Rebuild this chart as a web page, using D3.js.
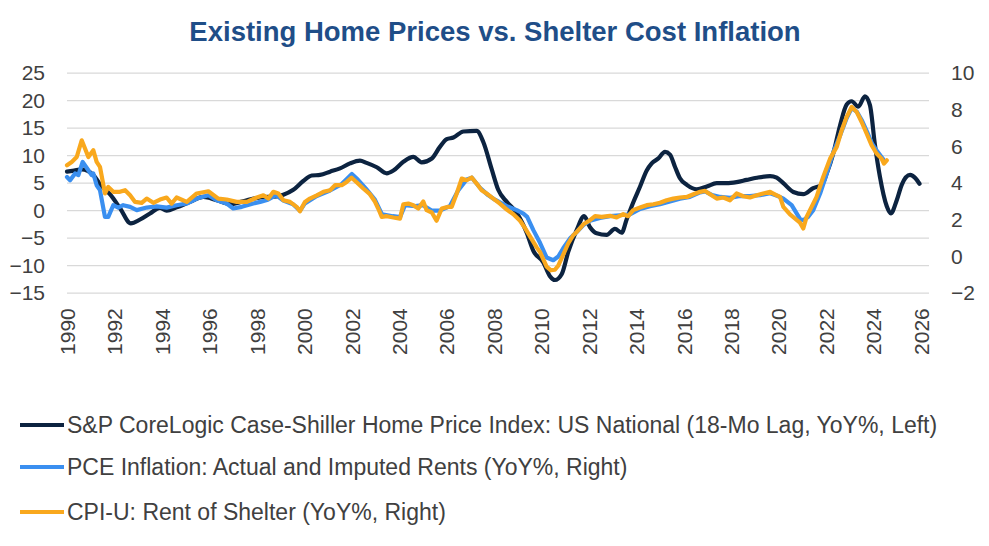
<!DOCTYPE html>
<html><head><meta charset="utf-8">
<script src="https://cdn.jsdelivr.net/npm/d3@7"></script>
<style>body{margin:0;background:#fff;font-family:Arial,"Liberation Sans",sans-serif;}</style>
</head><body><svg id="c" width="989" height="546"></svg>
<script>
const title = "Existing Home Prices vs. Shelter Cost Inflation";
const xTicks = d3.range(1990, 2027, 2);
const leftTicks = [-15,-10,-5,0,5,10,15,20,25];
const rightTicks = [-2,0,2,4,6,8,10];
const seriesNames = [
  "S&P CoreLogic Case-Shiller Home Price Index: US National (18-Mo Lag, YoY%, Left)",
  "PCE Inflation: Actual and Imputed Rents (YoY%, Right)",
  "CPI-U: Rent of Shelter (YoY%, Right)"
];
const hpiDates = [1990.0,1990.3,1990.62,1991.11,1991.39,1991.81,1992.23,1992.69,1993.08,1993.5,1993.92,1994.2,1994.62,1995.19,1995.75,1996.31,1996.87,1997.58,1998.14,1998.84,1999.12,1999.54,1999.96,2000.32,2000.67,2001.09,2001.51,2001.93,2002.35,2002.63,2003.06,2003.48,2003.76,2004.18,2004.6,2004.95,2005.38,2005.72,2006.01,2006.29,2006.71,2007.27,2007.55,2007.9,2008.18,2008.54,2008.96,2009.38,2009.66,2010.08,2010.36,2010.57,2010.86,2011.13,2011.49,2011.8,2012.05,2012.33,2012.75,2013.1,2013.38,2013.6,2013.87,2014.16,2014.44,2014.65,2014.93,2015.21,2015.42,2015.63,2015.84,2016.13,2016.55,2016.97,2017.39,2017.81,2018.23,2018.65,2019.08,2019.64,2019.92,2020.2,2020.62,2021.04,2021.46,2021.82,2022.03,2022.31,2022.59,2022.87,2023.08,2023.36,2023.64,2023.85,2024.06,2024.27,2024.56,2024.73,2024.98,2025.19,2025.54,2025.77,2025.94];
const hpiValues = [7.1,7.3,7.5,6.5,4.8,3.0,0.5,-2.3,-1.6,-0.5,0.5,0.0,0.6,1.6,2.5,1.9,1.2,1.9,2.4,2.6,2.9,3.8,5.4,6.4,6.5,7.1,7.7,8.6,9.1,8.7,7.9,6.8,7.3,8.9,9.8,8.8,9.5,11.6,13.0,13.3,14.4,14.5,12.5,7.6,3.8,1.6,-0.4,-4.0,-7.3,-9.4,-11.9,-12.6,-11.5,-7.5,-3.5,-1.0,-3.0,-4.1,-4.4,-3.3,-4.0,-1.5,1.5,4.4,7.3,8.6,9.5,10.7,10.2,8.0,5.9,4.7,3.9,4.4,5.0,5.0,5.2,5.6,6.0,6.3,6.0,5.0,3.4,3.0,4.1,4.7,6.8,10.5,15.5,19.3,19.9,18.9,20.8,19.2,12.0,6.2,0.8,-0.5,1.9,4.7,6.5,5.9,4.9];
const pceDates = [1990.0,1990.13,1990.34,1990.48,1990.66,1990.9,1991.04,1991.11,1991.25,1991.39,1991.6,1991.74,1991.95,1992.16,1992.37,1992.66,1992.94,1993.36,1993.78,1994.2,1994.62,1995.05,1995.47,1995.96,1996.31,1996.73,1997.01,1997.37,1997.85,1998.14,1998.47,1998.81,1999.12,1999.53,1999.82,2000.03,2000.53,2001.09,2001.58,2002.01,2002.26,2002.6,2002.98,2003.28,2003.74,2004.04,2004.25,2004.68,2005.01,2005.39,2005.72,2006.14,2006.49,2006.85,2007.07,2007.41,2007.75,2008.04,2008.54,2008.96,2009.24,2009.4,2009.66,2009.94,2010.22,2010.5,2010.71,2010.92,2011.2,2011.49,2011.77,2012.05,2012.47,2012.89,2013.31,2013.73,2014.16,2014.58,2015.0,2015.42,2015.84,2016.26,2016.69,2016.9,2017.2,2017.54,2017.95,2018.37,2018.79,2019.22,2019.64,2019.97,2020.2,2020.55,2020.9,2021.04,2021.24,2021.46,2021.75,2022.03,2022.31,2022.59,2022.87,2023.08,2023.3,2023.52,2023.73,2023.94,2024.15,2024.41];
const pceValues = [4.34,4.16,4.53,4.44,5.16,4.71,4.44,4.53,3.89,3.62,2.16,2.16,2.8,2.67,2.8,2.71,2.53,2.67,2.74,2.67,2.8,2.89,3.16,3.34,3.07,2.89,2.62,2.71,2.89,2.98,3.1,3.35,3.05,2.85,2.5,2.9,3.3,3.6,3.95,4.5,4.2,3.7,3.1,2.3,2.2,2.15,2.8,2.75,2.8,2.5,2.5,2.75,3.6,4.2,4.3,3.75,3.35,3.1,2.75,2.53,2.34,2.16,1.44,0.75,-0.05,-0.2,0.0,0.45,0.98,1.34,1.72,1.95,2.1,2.2,2.25,2.3,2.6,2.75,2.85,3.0,3.15,3.25,3.5,3.55,3.35,3.25,3.2,3.3,3.3,3.35,3.45,3.3,3.16,2.8,2.05,1.98,2.16,2.53,3.44,4.53,5.71,6.6,7.55,8.1,7.9,7.4,6.8,6.15,5.75,5.3];
const cpiDates = [1990.0,1990.2,1990.41,1990.62,1990.76,1990.9,1991.11,1991.25,1991.39,1991.6,1991.74,1991.95,1992.23,1992.45,1992.66,1992.87,1993.15,1993.36,1993.64,1993.92,1994.2,1994.41,1994.62,1995.05,1995.47,1995.96,1996.38,1996.73,1997.15,1997.58,1998.0,1998.28,1998.49,1998.7,1998.91,1999.12,1999.4,1999.68,1999.82,2000.03,2000.24,2000.53,2000.81,2001.09,2001.3,2001.58,2001.79,2002.0,2002.21,2002.49,2002.77,2002.98,2003.12,2003.27,2003.48,2003.76,2004.04,2004.18,2004.39,2004.6,2004.81,2005.02,2005.16,2005.38,2005.58,2005.8,2006.07,2006.22,2006.43,2006.64,2006.85,2007.06,2007.27,2007.48,2007.69,2007.97,2008.25,2008.54,2008.82,2009.1,2009.31,2009.52,2009.8,2009.94,2010.22,2010.4,2010.57,2010.71,2010.92,2011.13,2011.34,2011.49,2011.77,2012.05,2012.26,2012.54,2012.89,2013.17,2013.45,2013.66,2013.87,2014.16,2014.44,2014.72,2015.0,2015.28,2015.56,2015.84,2016.13,2016.41,2016.69,2016.9,2017.11,2017.39,2017.67,2017.95,2018.23,2018.51,2018.79,2019.08,2019.35,2019.64,2019.92,2020.06,2020.2,2020.48,2020.76,2020.9,2021.04,2021.18,2021.39,2021.6,2021.88,2022.17,2022.45,2022.66,2022.87,2023.08,2023.29,2023.5,2023.71,2023.92,2024.13,2024.34,2024.44,2024.56];
const cpiValues = [4.98,5.16,5.43,6.34,5.89,5.43,5.8,5.16,4.89,3.44,3.8,3.53,3.53,3.62,3.34,2.98,2.93,3.16,2.93,3.11,3.22,2.89,3.22,2.98,3.44,3.56,3.16,3.11,2.98,2.98,3.22,3.34,3.16,3.53,3.44,3.07,2.98,2.71,2.47,2.98,3.16,3.34,3.53,3.62,3.89,3.89,4.07,4.3,4.05,3.71,3.4,3.0,2.62,2.16,2.2,2.13,2.07,2.85,2.89,2.8,2.62,3.0,2.53,2.4,1.95,2.62,2.71,2.71,3.44,4.25,4.16,4.31,3.98,3.62,3.44,3.16,2.89,2.56,2.31,1.95,1.55,1.1,0.5,0.25,-0.55,-0.75,-0.72,-0.5,0.1,0.71,1.16,1.34,1.76,1.98,2.2,2.16,2.22,2.13,2.31,2.2,2.53,2.67,2.8,2.85,2.93,3.07,3.16,3.22,3.25,3.4,3.53,3.58,3.4,3.16,3.22,3.07,3.44,3.29,3.22,3.34,3.44,3.53,3.34,3.25,2.71,2.3,2.0,1.85,1.53,2.16,2.71,3.25,4.34,5.34,5.98,6.89,7.62,8.16,7.89,7.34,6.71,6.07,5.62,5.34,5.07,5.25];

const colors = ["#0C2340", "#3A8FF0", "#F9A81D"];
const svg = d3.select("#c");
const x = d3.scaleLinear().domain([1990, 2026.34]).range([67, 929]);
const yL = d3.scaleLinear().domain([-15, 25]).range([293.2, 73.2]);
const yR = d3.scaleLinear().domain([-2, 10]).range([293.2, 73.2]);

svg.append("text").attr("x", 495).attr("y", 41).attr("text-anchor", "middle")
  .attr("font-size", 27.5).attr("font-weight", "bold").attr("fill", "#1F4E88").text(title);

svg.append("g").selectAll("line").data(leftTicks).join("line")
  .attr("x1", 67).attr("x2", 929).attr("y1", d => yL(d)).attr("y2", d => yL(d))
  .attr("stroke", "#d9d9d9").attr("stroke-width", 1.3);

const axL = svg.append("g").attr("transform", "translate(67,0)")
  .call(d3.axisLeft(yL).tickValues(leftTicks).tickSize(0).tickPadding(22));
const axR = svg.append("g").attr("transform", "translate(929,0)")
  .call(d3.axisRight(yR).tickValues(rightTicks).tickSize(0).tickPadding(22));
const axB = svg.append("g").attr("transform", "translate(0,293.2)")
  .call(d3.axisBottom(x).tickValues(xTicks).tickFormat(d3.format("d")).tickSize(0));
[axL, axR, axB].forEach(a => { a.select(".domain").remove();
  a.selectAll("text").attr("font-size", 21).attr("fill", "#404040").attr("font-family", "Arial, 'Liberation Sans', sans-serif"); });
axB.selectAll("text").attr("transform", "rotate(-90)").attr("text-anchor", "end")
  .attr("x", -15).attr("y", 0).attr("dy", "0.35em");

const mk = (ys) => d3.line().x(d => x(d[0])).y(d => ys(d[1]));
const data = [
  [d3.zip(hpiDates, hpiValues), yL, d3.curveMonotoneX],
  [d3.zip(pceDates, pceValues), yR, d3.curveLinear],
  [d3.zip(cpiDates, cpiValues), yR, d3.curveLinear]
];
data.forEach((s, i) => {
  svg.append("path").datum(s[0]).attr("fill", "none").attr("stroke", colors[i])
    .attr("stroke-width", 4.2).attr("stroke-linejoin", "round").attr("stroke-linecap", "round")
    .attr("d", mk(s[1]).curve(s[2]));
});

const legY = [425, 467, 512];
seriesNames.forEach((n, i) => {
  svg.append("line").attr("x1", 20).attr("x2", 64).attr("y1", legY[i]).attr("y2", legY[i])
    .attr("stroke", colors[i]).attr("stroke-width", 4.2);
  svg.append("text").attr("x", 67).attr("y", legY[i]).attr("dy", "0.35em")
    .attr("font-size", 23).attr("fill", "#404040").text(n);
});
</script></body></html>
